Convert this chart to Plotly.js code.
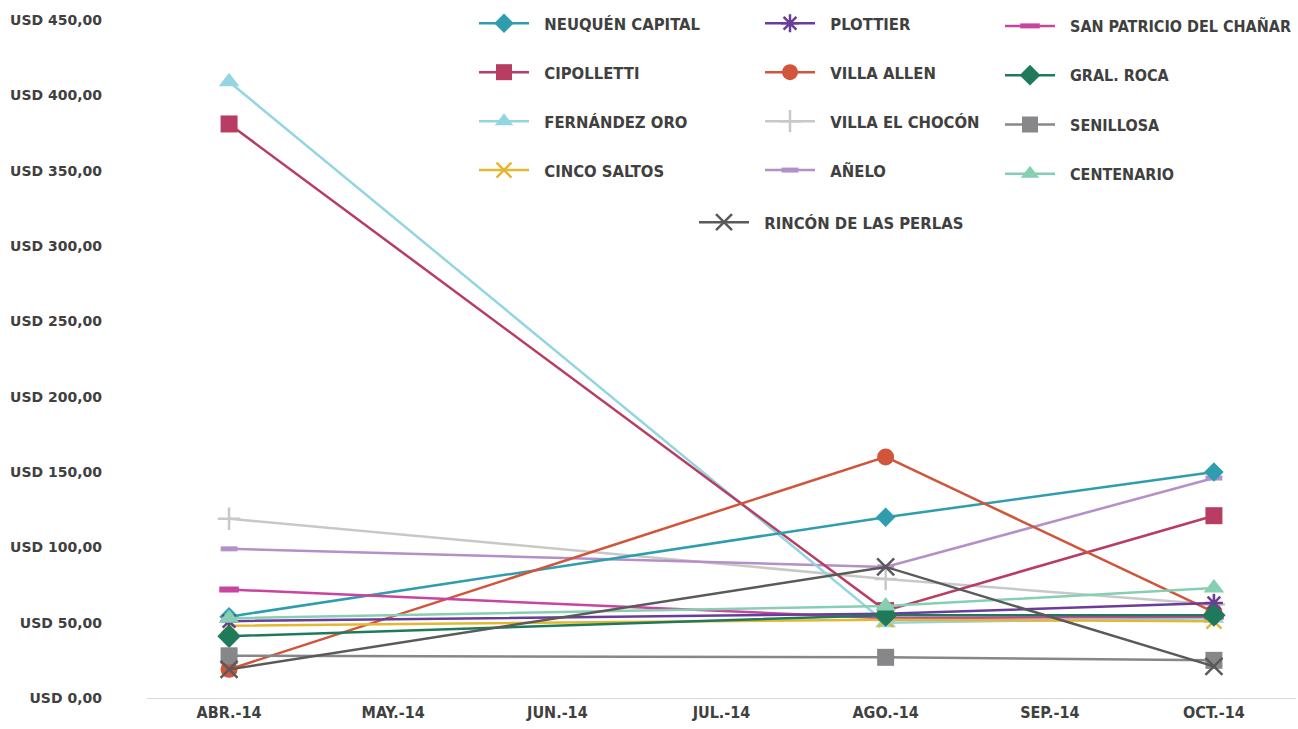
<!DOCTYPE html>
<html><head><meta charset="utf-8">
<script src="https://cdn.plot.ly/plotly-3.0.1.min.js"></script>
<style>html,body{margin:0;padding:0;background:#fff}#chart{width:1298px;height:729px}</style>
</head><body><div id="chart"></div>
<script>
const months = ["ABR.-14","MAY.-14","JUN.-14","JUL.-14","AGO.-14","SEP.-14","OCT.-14"];
const dataMonths = ["ABR.-14","AGO.-14","OCT.-14"];
const yTickVals = [0,50,100,150,200,250,300,350,400,450];
const yTickText = ["USD 0,00","USD 50,00","USD 100,00","USD 150,00","USD 200,00","USD 250,00","USD 300,00","USD 350,00","USD 400,00","USD 450,00"];

const neuquenCapital = [54,120,150];
const cipolletti = [381,58,121];
const fernandezOro = [409,50,53];
const cincoSaltos = [48,52,51];
const plottier = [51,56,63];
const villaAllen = [19,160,57];
const villaElChocon = [119,79,62];
const anelo = [99,87,146];
const sanPatricio = [72,53,54];
const gralRoca = [41,55,55];
const senillosa = [28,27,25];
const centenario = [53,61,73];
const rinconDeLasPerlas = [19,87,21];

const pad = "\u00a0\u00a0";
function tr(name, y, color, symbol, size, legend, mline, mcolor){
  return {type:'scatter', mode:'lines+markers', name:pad+name, x:dataMonths, y:y,
    line:{color:color, width:2.5}, legend:legend, legendgroup:name,
    marker:{symbol:symbol, size:size, color:mcolor||color, line:{color:color, width:mline||0}}};
}
const traces = [
  tr("VILLA EL CHOCÓN", villaElChocon, "#C8C8C8", "cross-thin-open", 16, "legend2", 2.5),
  tr("AÑELO", anelo, "#B48FC8", "line-ew-open", 12, "legend2", 5),
  tr("FERNÁNDEZ ORO", fernandezOro, "#93D5E0", "triangle-up", 18, "legend"),
  tr("CIPOLLETTI", cipolletti, "#B83D63", "square", 17, "legend"),
  tr("NEUQUÉN CAPITAL", neuquenCapital, "#2E9EAE", "diamond", 15, "legend"),
  tr("VILLA ALLEN", villaAllen, "#D0553A", "circle", 17, "legend2"),
  tr("SAN PATRICIO DEL CHAÑAR", sanPatricio, "#C9449E", "line-ew-open", 14, "legend3", 6),
  tr("CINCO SALTOS", cincoSaltos, "#E3B830", "x-thin-open", 15, "legend", 2.5),
  tr("PLOTTIER", plottier, "#6A3D9A", "asterisk-open", 15, "legend2", 2.5),
  tr("GRAL. ROCA", gralRoca, "#1E7A5A", "diamond", 18, "legend3"),
  tr("SENILLOSA", senillosa, "#87878A", "square", 17, "legend3"),
  tr("CENTENARIO", centenario, "#86CFB3", "triangle-up", 18, "legend3"),
  tr("RINCÓN DE LAS PERLAS", rinconDeLasPerlas, "#5A5A5A", "x-thin-open", 17, "legend4", 2.5)
];
const rank = {"NEUQUÉN CAPITAL":1,"CIPOLLETTI":2,"FERNÁNDEZ ORO":3,"CINCO SALTOS":4,
  "PLOTTIER":1,"VILLA ALLEN":2,"VILLA EL CHOCÓN":3,"AÑELO":4,
  "SAN PATRICIO DEL CHAÑAR":1,"GRAL. ROCA":2,"SENILLOSA":3,"CENTENARIO":4,"RINCÓN DE LAS PERLAS":1};
traces.forEach(t=>{t.legendrank = rank[t.legendgroup];});

function lf(s){return {family:"'Liberation Sans Narrow', 'DejaVu Sans Condensed', sans-serif", size:s, color:"#404040", weight:700};}
function leg(x,y,s,g){return {xref:'container', yref:'container', x:x, y:y, xanchor:'left', yanchor:'top',
  orientation:'v', font:lf(s), itemwidth:50, tracegroupgap:g, bgcolor:'rgba(0,0,0,0)', traceorder:'grouped'};}

const layout = {
  width:1298, height:729, paper_bgcolor:'#fff', plot_bgcolor:'#fff',
  margin:{l:147, r:2, t:20, b:31, autoexpand:false},
  showlegend:true,
  legend: leg(474/1298, 1-6/729, 16.5, 24.5),
  legend2: leg(760/1298, 1-6/729, 16.5, 24.5),
  legend3: leg(1000/1298, 1-9/729, 16, 25.5),
  legend4: leg(694/1298, 1-205/729, 16.5, 24.5),
  xaxis:{type:'category', categoryorder:'array', categoryarray:months, range:[-0.5,6.5],
    showgrid:false, showline:true, linecolor:'#D9D9D9', linewidth:1, ticks:'', zeroline:false,
    tickfont:{family:"'Liberation Sans Narrow', 'DejaVu Sans Condensed', sans-serif", size:16, color:'#404040', weight:700}},
  yaxis:{range:[0,450], tickvals:yTickVals, ticktext:yTickText, showgrid:false, zeroline:false, showline:false,
    ticks:'', ticklabelstandoff:44,
    tickfont:{family:"'DejaVu Sans', sans-serif", size:14, color:'#404040', weight:700}}
};
Plotly.newPlot('chart', traces, layout, {displayModeBar:false, staticPlot:true});
</script></body></html>
